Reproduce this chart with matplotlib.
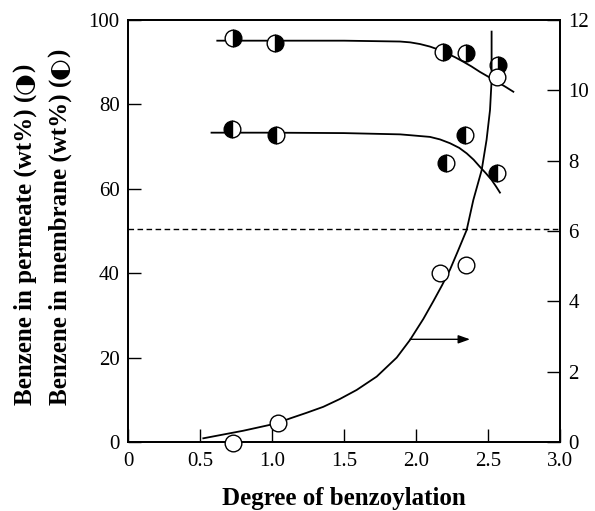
import numpy as np
import matplotlib
matplotlib.use('Agg')
import matplotlib.pyplot as plt

plt.rcParams['font.family'] = ['Liberation Serif', 'DejaVu Sans']

# =============================================================================
# Data
# =============================================================================

# permeate (right half black)
x_perm = [0.73, 1.02, 2.185, 2.35, 2.57]
y_perm = [95.7, 94.5, 92.5, 92.1, 89.3]
# membrane (left half black)
x_memb = [0.72, 1.03, 2.21, 2.34, 2.56]
y_memb = [74.2, 72.7, 66.0, 72.7, 63.8]
# open circles, right axis
x_open = [0.73, 1.04, 2.17, 2.35, 2.56]
y_open = [-0.04, 0.53, 4.8, 5.03, 10.39]

# fitted curves
x_fit_perm = [0.62, 1.0, 1.5, 1.889, 1.96, 2.028, 2.097, 2.155, 2.213, 2.27,
              2.329, 2.385, 2.444, 2.50, 2.56, 2.62, 2.676]
y_fit_perm = [95.1, 95.1, 95.1, 94.9, 94.7, 94.3, 93.7, 93.0, 92.1, 91.2,
              90.1, 89.0, 87.7, 86.6, 85.4, 84.2, 83.0]
x_fit_memb = [0.58, 1.0, 1.5, 1.889, 1.96, 2.028, 2.097, 2.167, 2.236, 2.3,
              2.352, 2.40, 2.444, 2.485, 2.525, 2.555, 2.583]
y_fit_memb = [73.3, 73.3, 73.2, 72.9, 72.7, 72.5, 72.3, 71.7, 70.8, 69.7,
              68.4, 66.9, 65.2, 63.7, 62.1, 60.6, 59.1]
x_fit_open = [0.523, 0.8, 1.033, 1.125, 1.24, 1.356, 1.47, 1.588, 1.727, 1.866,
              1.958, 2.051, 2.12, 2.18, 2.236, 2.29, 2.352, 2.398, 2.456, 2.49,
              2.514, 2.525, 2.525]
y_fit_open = [0.105, 0.32, 0.53, 0.67, 0.83, 1.00, 1.22, 1.48, 1.86, 2.40,
              2.90, 3.50, 4.0, 4.45, 4.90, 5.42, 6.03, 6.88, 7.73, 8.59,
              9.44, 10.29, 11.67]

dash_level = 50.5
arrow_x = [1.958, 2.375]
arrow_y = 2.92

# =============================================================================
# Graf
# =============================================================================

fig = plt.figure(figsize=(5.95, 5.11), dpi=100)
ax1 = fig.add_axes([128/595, 1-442/511, 432/595, 422/511])
ax2 = ax1.twinx()

ax1.set_xlim(0, 3.0)
ax1.set_ylim(0, 100)
ax2.set_ylim(0, 12)

ax1.plot(x_fit_perm, y_fit_perm, color='black', lw=1.3, zorder=2)
ax1.plot(x_fit_memb, y_fit_memb, color='black', lw=1.3, zorder=2)
ax1.axhline(dash_level, color='black', lw=1.0, ls=(0, (4, 2.5)), zorder=1)

ax1.plot(x_perm, y_perm, 'o', ms=12, fillstyle='right', markerfacecolor='black',
         markerfacecoloralt='white', markeredgecolor='black', mew=1.0, zorder=3)
ax1.plot(x_memb, y_memb, 'o', ms=12, fillstyle='left', markerfacecolor='black',
         markerfacecoloralt='white', markeredgecolor='black', mew=1.0, zorder=3)

ax2.plot(x_fit_open, y_fit_open, color='black', lw=1.3, zorder=2)
ax2.plot(x_open, y_open, 'o', ms=12, markerfacecolor='white',
         markeredgecolor='black', mew=1.0, zorder=4, clip_on=False)
ax2.annotate('', xy=(arrow_x[1], arrow_y), xytext=(arrow_x[0], arrow_y),
             arrowprops=dict(arrowstyle='-|>,head_length=0.7,head_width=0.25',
                             color='black', lw=1.0, shrinkA=0, shrinkB=0))

ax1.set_xticks([0, 0.5, 1.0, 1.5, 2.0, 2.5, 3.0])
ax1.set_xticklabels(['0', '0.5', '1.0', '1.5', '2.0', '2.5', '3.0'])
ax1.set_yticks([0, 20, 40, 60, 80, 100])
ax2.set_yticks([0, 2, 4, 6, 8, 10, 12])

for ax in (ax1, ax2):
    ax.tick_params(direction='in', length=9.5, width=1.0, labelsize=15, pad=6)
    for s in ax.spines.values():
        s.set_linewidth(1.3)
ax1.tick_params(axis='x', pad=7)

ax1.set_xlabel('Degree of benzoylation', fontsize=18, fontweight='bold', labelpad=12)

# two-line y label, the half-filled circle glyphs drawn in DejaVu Sans
def ylabel_line(x, text, glyph):
    t1 = fig.text(x, 1-405/511, text + ' (', rotation=90, ha='center', va='bottom',
                  fontsize=18, fontweight='bold', family='Liberation Serif')
    t2 = fig.text(0, 0, glyph, rotation=90, ha='center', va='bottom',
                  fontsize=18, family='DejaVu Sans')
    fig.canvas.draw()
    bb = t1.get_window_extent()
    t2.set_position(((bb.x0 + bb.x1) / 2 / fig.bbox.width, bb.y1 / fig.bbox.height))
    fig.canvas.draw()
    bb2 = t2.get_window_extent()
    fig.text((bb.x0 + bb.x1) / 2 / fig.bbox.width, bb2.y1 / fig.bbox.height, ')',
             rotation=90, ha='center', va='bottom', fontsize=18, fontweight='bold',
             family='Liberation Serif')

ylabel_line(25/595, 'Benzene in permeate (wt%)', '\u25d1')
ylabel_line(60/595, 'Benzene in membrane (wt%)', '\u25d0')

fig.savefig('out.png', dpi=100)
